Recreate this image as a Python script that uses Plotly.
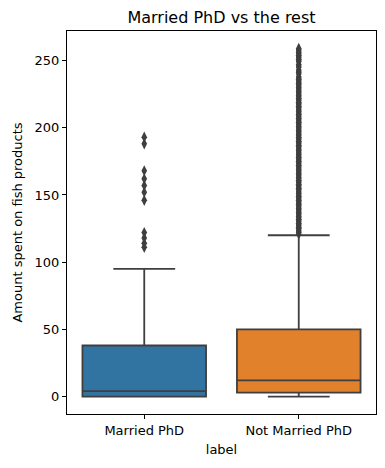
import plotly.graph_objects as go

categories = ["Married PhD", "Not Married PhD"]
q1 = [0, 3]
median = [4, 12]
q3 = [38, 50]
lower_whisker = [0, 0]
upper_whisker = [95, 120]
box_colors = ["#3274a1", "#e1812c"]

married_outliers = [111, 114, 118, 122, 146, 152, 157, 162, 168, 188, 193]
not_married_outliers = [
    121, 122, 123, 124, 125, 126, 127, 128, 129, 130, 131, 132, 133, 134, 135,
    136, 137, 138, 139, 140, 141, 142, 143, 144, 145, 146, 147, 148, 149, 150,
    151, 152, 153, 154, 155, 156, 157, 158, 159, 160, 161, 162, 163, 164, 165,
    166, 167, 168, 169, 170, 171, 172, 173, 174, 175, 176, 177, 178, 179, 180,
    181, 182, 183, 184, 185, 186, 187, 188, 189, 190, 191, 192, 193, 194, 195,
    196, 197, 198, 199, 200, 201, 202, 203, 204, 205, 206, 207, 208, 209, 210,
    211, 212, 213, 214, 215, 216, 217, 218, 219, 220, 221, 222, 223, 224, 225,
    226, 227, 228, 229, 230, 231, 232, 233, 234, 235, 236, 237, 238, 240, 241,
    242, 243, 245, 246, 247, 249, 250, 251, 252, 253, 254, 255, 256, 257, 258, 259,
]
y_ticks = [0, 50, 100, 150, 200, 250]

edge = "#3f3f3f"
fig = go.Figure()
for i, cat in enumerate(categories):
    fig.add_trace(go.Box(
        x=[cat], q1=[q1[i]], median=[median[i]], q3=[q3[i]],
        lowerfence=[lower_whisker[i]], upperfence=[upper_whisker[i]],
        fillcolor=box_colors[i], line=dict(color=edge, width=1.8),
        width=0.8, whiskerwidth=0.5, boxpoints=False, showlegend=False,
        hoverinfo="skip",
    ))

outliers = [married_outliers, not_married_outliers]
for i, cat in enumerate(categories):
    fig.add_trace(go.Scatter(
        x=[cat] * len(outliers[i]), y=outliers[i], mode="markers",
        marker=dict(symbol="diamond-tall", size=8, color=edge,
                    line=dict(width=0)),
        showlegend=False,
    ))

font_family = "DejaVu Sans"
fig.update_layout(
    width=385, height=468,
    margin=dict(l=67, r=9, t=31, b=54, autoexpand=False),
    paper_bgcolor="white", plot_bgcolor="white",
    font=dict(family=font_family, size=13, color="black"),
    title=dict(text="Married PhD vs the rest", x=(67 + 376) / 2 / 385,
               xanchor="center", y=1 - 17 / 468, yanchor="middle",
               font=dict(size=16, color="black")),
    boxmode="overlay",
)
fig.update_xaxes(
    type="category", categoryorder="array", categoryarray=categories,
    range=[-0.5, 1.5], showline=True, mirror=True, linecolor="black",
    linewidth=1, ticks="outside", ticklen=4, tickcolor="black",
    showgrid=False, zeroline=False, automargin=False,
    tickfont=dict(size=13),
    title=dict(text="label", standoff=8, font=dict(size=13)),
)
fig.update_yaxes(
    range=[-12.95, 271.95], tickvals=y_ticks, showline=True, mirror=True,
    linecolor="black", linewidth=1, ticks="outside", ticklen=4,
    tickcolor="black", showgrid=False, zeroline=False, automargin=False,
    tickfont=dict(size=13),
    title=dict(text="Amount spent on fish products", standoff=9,
               font=dict(size=13)),
)
fig.write_html(
    "out.html",
    config={"displayModeBar": False},
    post_script="document.body.style.margin='0';document.body.style.overflow='hidden';",
)
